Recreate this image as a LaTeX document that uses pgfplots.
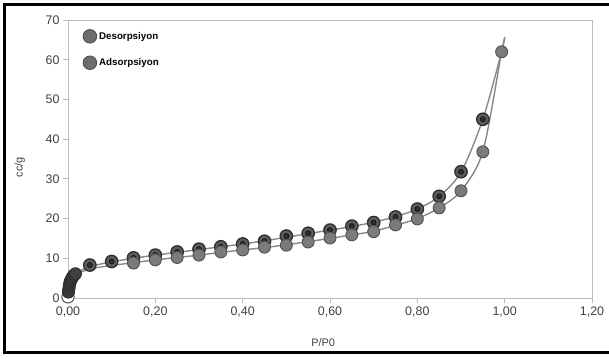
\documentclass[border=0pt]{standalone}
\usepackage{pgfplots}
\pgfplotsset{compat=1.18}
\usepackage{fontspec}
\setmainfont{Liberation Sans}
\definecolor{axgray}{HTML}{BBBBBB}
\definecolor{txtgray}{HTML}{404040}
\definecolor{linegray}{HTML}{888888}
\definecolor{desfill}{HTML}{5C5C5C}
\definecolor{desedge}{HTML}{2E2E2E}
\definecolor{adsfill}{HTML}{7B7B7B}
\definecolor{adsedge}{HTML}{505050}
\definecolor{legfill}{HTML}{6E6E6E}
\definecolor{legedge}{HTML}{4A4A4A}
\begin{document}
\begin{tikzpicture}[x=1bp,y=1bp]
\useasboundingbox (0,0) rectangle (609,358);
\begin{axis}[
  at={(68bp,60bp)}, anchor=south west,
  scale only axis, width=524bp, height=278bp,
  xmin=0, xmax=1.2, ymin=0, ymax=70,
  xtick={0,0.2,...,1.2}, ytick={0,10,...,70},
  axis line style={axgray, line width=0.8bp},
  tick style={axgray, line width=0.8bp},
  tick align=outside, major tick length=5bp,
  xtick pos=bottom, ytick pos=left,
  /pgf/number format/assume math mode=true,
  xticklabel style={/pgf/number format/.cd, fixed, fixed zerofill, precision=2, use comma},
  ticklabel style={font=\fontsize{12.5}{14}\selectfont, text=txtgray},
  xlabel={P/P0}, ylabel={cc/g},
  label style={font=\fontsize{11}{13}\selectfont, text=txtgray},
  xlabel style={at={(axis description cs:0.487,-0.162)}, anchor=center},
  ylabel style={at={(axis description cs:-0.092,0.47)}, anchor=center},
  clip=false,
  legend style={at={(axis description cs:0.022,0.975)}, anchor=north west,
    draw=none, fill=none, font=\bfseries\fontsize{9.8}{11}\selectfont,
    row sep=12bp, legend cell align=left},
  legend image code/.code={\draw[fill=legfill, draw=legedge, line width=0.8bp] (0.25cm,0cm) circle (6.8bp);},
]
% lines
\addplot[linegray, line width=1.4bp, smooth, tension=0.5, forget plot] coordinates {
(0.002,2.5)(0.008,5.0)(0.02,6.4)(0.05,7.9)(0.10,9.1)(0.15,10.0)(0.20,10.8)(0.25,11.5)(0.30,12.2)(0.35,12.9)(0.40,13.6)(0.45,14.4)(0.50,15.3)(0.55,16.2)(0.60,17.1)(0.65,18.0)(0.70,19.1)(0.75,20.5)(0.80,22.4)(0.85,25.6)(0.90,31.7)(0.95,45.0)(0.993,62.0)(1.0,65.5)};
\addplot[linegray, line width=1.4bp, smooth, tension=0.5, forget plot] coordinates {
(0.002,2.5)(0.008,4.8)(0.02,6.0)(0.05,7.3)(0.10,8.2)(0.15,8.9)(0.20,9.6)(0.25,10.2)(0.30,10.8)(0.35,11.5)(0.40,12.1)(0.45,12.7)(0.50,13.4)(0.55,14.2)(0.60,15.0)(0.65,15.9)(0.70,16.8)(0.75,18.3)(0.80,20.0)(0.85,22.7)(0.90,27.0)(0.95,36.9)(0.993,62.0)(1.0,65.5)};
% desorption
\addplot[only marks, mark=*, mark size=6.2bp, mark options={fill=desfill, draw=desedge, line width=1.3bp}] coordinates {
(0.05,8.3)(0.10,9.2)(0.15,10.1)(0.20,10.8)(0.25,11.6)(0.30,12.3)(0.35,12.9)(0.40,13.6)(0.45,14.3)(0.50,15.6)(0.55,16.3)(0.60,17.1)(0.65,18.1)(0.70,19.0)(0.75,20.4)(0.80,22.4)(0.85,25.6)(0.90,31.8)(0.95,45.0)};
\addlegendentry{Desorpsiyon}
\addplot[only marks, mark=*, mark size=2.6bp, mark options={fill=desedge, draw=none}, forget plot] coordinates {
(0.05,8.3)(0.10,9.2)(0.15,10.1)(0.20,10.8)(0.25,11.6)(0.30,12.3)(0.35,12.9)(0.40,13.6)(0.45,14.3)(0.50,15.6)(0.55,16.3)(0.60,17.1)(0.65,18.1)(0.70,19.0)(0.75,20.4)(0.80,22.4)(0.85,25.6)(0.90,31.8)(0.95,45.0)};
% low-pressure cluster
\addplot[only marks, mark=*, mark size=6.2bp, mark options={fill=white, draw=adsedge, line width=1bp}, forget plot] coordinates {(0.0,0.3)};
\addplot[only marks, mark=*, mark size=6bp, mark options={fill=desfill!70!black, draw=desedge, line width=1bp}, forget plot] coordinates {
(0.001,1.5)(0.002,2.3)(0.003,3.0)(0.004,3.6)(0.005,4.1)(0.007,4.6)(0.009,5.0)(0.011,5.4)(0.014,5.8)(0.017,6.1)};
% adsorption
\addplot[only marks, mark=*, mark size=6bp, mark options={fill=adsfill, draw=adsedge, line width=0.9bp}] coordinates {
(0.15,8.8)(0.20,9.6)(0.25,10.2)(0.30,10.8)(0.35,11.6)(0.40,12.1)(0.45,12.8)(0.50,13.3)(0.55,14.1)(0.60,15.1)(0.65,15.9)(0.70,16.7)(0.75,18.4)(0.80,19.9)(0.85,22.7)(0.90,27.0)(0.95,36.8)(0.993,62.0)};
\addlegendentry{Adsorpsiyon}
\end{axis}
\draw[overlay, black, line width=3bp] (612,6) -- (4,6) -- (4,353) -- (612,353);
\end{tikzpicture}
\end{document}
